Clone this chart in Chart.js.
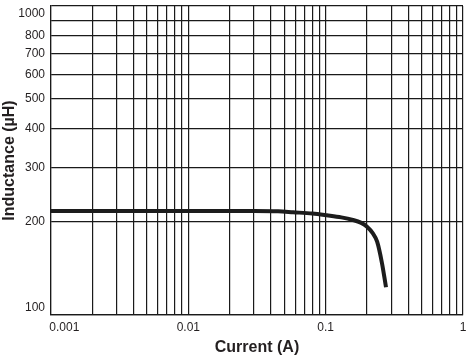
<!DOCTYPE html>
<html>
<head>
<meta charset="utf-8">
<script src="https://cdn.jsdelivr.net/npm/chart.js@4/dist/chart.umd.min.js"></script>
<style>
  html, body { margin: 0; padding: 0; background: #ffffff; }
  #wrap { width: 473px; height: 359px; }
</style>
</head>
<body>
<div id="wrap"><canvas id="c" width="473" height="359"></canvas></div>
<script>
// Data
const currentA   = [0.001, 0.003, 0.01, 0.03, 0.045, 0.058, 0.08, 0.102, 0.13, 0.158, 0.18, 0.2, 0.22, 0.237, 0.257, 0.275];
const inductance = [217,   217,   217,  217,  216.5, 215,   213,  210.2, 207,  203,   199,  193, 184,  172.7, 147.3, 123];

const xTickValues = [0.001, 0.01, 0.1, 1];
const xTickLabels = ['0.001', '0.01', '0.1', '1'];
const yTickValues = [100, 200, 300, 400, 500, 600, 700, 800, 900, 1000];
const yTickLabels = ['100', '200', '300', '400', '500', '600', '700', '800', '', '1000'];

const xTitle = 'Current (A)';
const yTitle = 'Inductance (µH)';

const ink = '#231f20';
const gridColor = '#1a1a1a';

// minor grid positions for every decade between the labelled ticks
const xGrid = [];
for (let d = 0; d < xTickValues.length - 1; d++) {
  for (let m = 1; m < 10; m++) xGrid.push(xTickValues[d] * m);
}
xGrid.push(xTickValues[xTickValues.length - 1]);

function near(a, b) { return Math.abs(a - b) / b < 1e-6; }

new Chart(document.getElementById('c'), {
  type: 'line',
  data: {
    datasets: [{
      data: currentA.map((x, i) => ({ x: x, y: inductance[i] })),
      borderColor: '#1c1c1c',
      borderWidth: 4,
      pointRadius: 0,
      cubicInterpolationMode: 'monotone',
      borderCapStyle: 'butt',
      fill: false
    }]
  },
  options: {
    responsive: false,
    animation: false,
    devicePixelRatio: 1,
    layout: { padding: { left: 0, right: 10, top: 6, bottom: 0 } },
    plugins: { legend: { display: false }, tooltip: { enabled: false } },
    scales: {
      x: {
        type: 'logarithmic',
        min: 0.001, max: 1,
        afterBuildTicks: s => { s.ticks = xGrid.map(v => ({ value: v })); },
        afterFit: s => { s.height = 44; s.paddingLeft = 0; s.paddingRight = 0; },
        grid: { color: gridColor, lineWidth: 1.2, drawTicks: false },
        border: { color: gridColor, width: 1.2 },
        ticks: {
          autoSkip: false, maxRotation: 0, padding: 5,
          color: ink,
          font: { family: 'Liberation Sans, Arial, sans-serif', size: 12 },
          callback: function (value) {
            const i = xTickValues.findIndex(v => near(v, value));
            if (i < 0) return '';
            return i === 0 ? '        ' + xTickLabels[i] : xTickLabels[i];
          }
        },
        title: {
          display: true, text: xTitle, color: ink,
          font: { family: 'Liberation Sans, Arial, sans-serif', size: 16, weight: 'bold' },
          padding: { top: 0, bottom: 2 }
        }
      },
      y: {
        type: 'logarithmic',
        min: 100, max: 1000,
        afterBuildTicks: s => { s.ticks = yTickValues.map(v => ({ value: v })); },
        afterFit: s => { s.width = 51; s.paddingTop = 0; s.paddingBottom = 0; },
        grid: { color: gridColor, lineWidth: 1.2, drawTicks: false },
        border: { color: gridColor, width: 1.2 },
        ticks: {
          autoSkip: false, padding: 6,
          color: ink,
          font: { family: 'Liberation Sans, Arial, sans-serif', size: 12 },
          callback: function (value) {
            const i = yTickValues.findIndex(v => near(v, value));
            if (i < 0) return '';
            const lab = yTickLabels[i];
            if (i === 0) return [lab, ''];
            if (i === yTickValues.length - 1) return ['', lab];
            return lab;
          }
        },
        title: {
          display: true, text: yTitle, color: ink,
          font: { family: 'Liberation Sans, Arial, sans-serif', size: 16, weight: 'bold' },
          padding: { top: 0, bottom: 0 }
        }
      }
    }
  }
});
</script>
</body>
</html>
